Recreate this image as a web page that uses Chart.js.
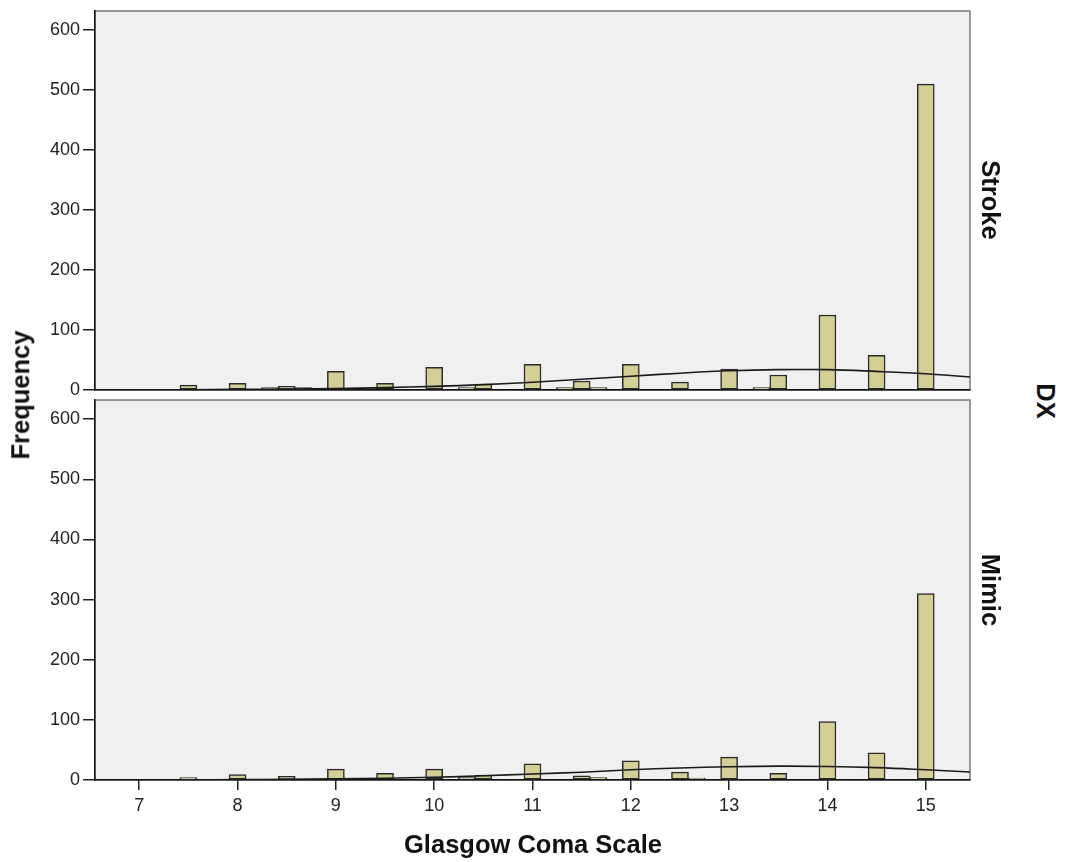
<!DOCTYPE html>
<html>
<head>
<meta charset="utf-8">
<script src="https://cdn.jsdelivr.net/npm/chart.js@4/dist/chart.umd.min.js"></script>
<style>
  html, body { margin: 0; padding: 0; background: #fff; }
  #wrap { position: relative; width: 1067px; height: 862px; overflow: hidden; font-family: "Liberation Sans", Arial, sans-serif; }
  canvas { position: absolute; left: 0; }
  .lbl { position: absolute; font-weight: bold; font-size: 25.5px; color: #111; white-space: nowrap; line-height: 1; }
  .rot { transform: translate(-50%, -50%) rotate(90deg); }
  .rotL { transform: translate(-50%, -50%) rotate(-90deg); }
  .ctr { transform: translate(-50%, -50%); }
</style>
</head>
<body>
<div id="wrap">
  <canvas id="cStroke" width="980" height="410" style="top:0"></canvas>
  <canvas id="cMimic" width="980" height="472" style="top:390px"></canvas>
  <div class="lbl rotL" style="left:21px; top:395px;">Frequency</div>
  <div class="lbl rot" style="left:990px; top:200px;">Stroke</div>
  <div class="lbl rot" style="left:990px; top:590px;">Mimic</div>
  <div class="lbl rot" style="left:1045px; top:401px;">DX</div>
  <div class="lbl ctr" style="left:533px; top:845px;">Glasgow Coma Scale</div>
</div>
<script>
// Glasgow Coma Scale histogram by diagnosis (DX), with fitted normal curves

// Stroke panel: bar positions (GCS) and counts
const strokeGcs    = [7.5, 8, 8.33, 8.5, 8.67, 9, 9.33, 9.5, 10, 10.33, 10.5, 11, 11.33, 11.5, 11.67, 12, 12.5, 13, 13.33, 13.5, 14, 14.5, 15];
const strokeCounts = [8, 11, 4, 6, 4, 31, 3, 11, 38, 4, 10, 43, 4, 15, 4, 43, 13, 35, 4, 25, 125, 58, 510];

// Mimic panel: bar positions (GCS) and counts
const mimicGcs    = [7.5, 8, 8.5, 9, 9.5, 10, 10.33, 10.5, 11, 11.5, 11.67, 12, 12.5, 12.67, 13, 13.5, 14, 14.5, 15];
const mimicCounts = [4, 9, 6, 18, 11, 18, 4, 8, 27, 7, 4, 32, 13, 3, 38, 11, 97, 45, 310];

// Normal curve readings (GCS position and height) for each panel
const curveGcs    = [6.5, 7, 7.5, 8, 8.5, 9, 9.5, 10, 10.5, 11, 11.5, 12, 12.5, 13, 13.5, 14, 14.5, 15, 15.5];
const strokeCurve = [0, 0.2, 0.5, 1, 1.5, 2.5, 4, 6, 9, 13, 18, 23, 28, 32, 34, 34, 31, 27, 21];
const mimicCurve  = [0, 0, 0.3, 0.7, 1.2, 2, 3, 4.5, 7, 10, 13, 17, 20, 22, 23, 22.5, 20.5, 17, 13];

// Axis ticks
const xTicks = [7, 8, 9, 10, 11, 12, 13, 14, 15];
const yTicks = [0, 100, 200, 300, 400, 500, 600];

Chart.defaults.font.family = '"Liberation Sans", Arial, sans-serif';
Chart.defaults.color = '#222';

// Light grey plot background with a thin grey frame
const panelFrame = {
  id: 'panelFrame',
  beforeDraw(chart) {
    const { ctx, chartArea: a } = chart;
    ctx.save();
    ctx.fillStyle = '#f0f0f0';
    ctx.fillRect(a.left, a.top, a.right - a.left, a.bottom - a.top);
    ctx.strokeStyle = '#7a7a7a';
    ctx.lineWidth = 1.5;
    ctx.strokeRect(a.left, a.top, a.right - a.left, a.bottom - a.top);
    ctx.restore();
  }
};

function pts(xs, ys) { return xs.map((x, i) => ({ x: x, y: ys[i] })); }

// Keep the plot area exactly where the padding puts it
function noOverflow(s) { s.paddingTop = 0; s.paddingBottom = 0; s.paddingLeft = 0; s.paddingRight = 0; }

function makePanel(id, gcs, counts, curve, showX, padTop, xHeight) {
  return new Chart(document.getElementById(id), {
    type: 'bar',
    data: {
      datasets: [
        {
          type: 'line',
          data: pts(curveGcs, curve),
          borderColor: '#1a1a1a',
          borderWidth: 1.6,
          pointRadius: 0,
          tension: 0.4,
          fill: false,
          order: 0
        },
        {
          type: 'bar',
          data: pts(gcs, counts),
          backgroundColor: '#d4cf96',
          borderColor: '#2a2a2a',
          borderWidth: 1.5,
          borderSkipped: false,
          barThickness: 17,
          order: 1
        }
      ]
    },
    options: {
      responsive: false,
      animation: false,
      devicePixelRatio: 1,
      layout: { padding: { top: padTop, right: 10, left: 0, bottom: 0 } },
      plugins: { legend: { display: false }, tooltip: { enabled: false } },
      scales: {
        x: {
          type: 'linear',
          offset: false,
          min: 6.55,
          max: 15.45,
          afterBuildTicks: s => { s.ticks = xTicks.map(v => ({ value: v })); },
          afterFit: s => { s.height = xHeight; noOverflow(s); },
          grid: { display: showX, offset: false, drawOnChartArea: false, drawTicks: true, tickLength: 10, color: '#222', lineWidth: 1.5 },
          border: { display: true, color: '#111', width: 1.5 },
          ticks: { display: showX, font: { size: 18 }, padding: 5, maxRotation: 0 }
        },
        y: {
          min: 0,
          max: 632,
          afterBuildTicks: s => { s.ticks = yTicks.map(v => ({ value: v })); },
          afterFit: s => { s.width = 95; noOverflow(s); },
          grid: { drawOnChartArea: false, drawTicks: true, tickLength: 12, color: '#222', lineWidth: 1.5 },
          border: { display: true, color: '#111', width: 1.5 },
          ticks: { font: { size: 18 }, padding: 3 }
        }
      }
    },
    plugins: [panelFrame]
  });
}

makePanel('cStroke', strokeGcs, strokeCounts, strokeCurve, false, 11, 20);
makePanel('cMimic', mimicGcs, mimicCounts, mimicCurve, true, 10, 82);
</script>
</body>
</html>
